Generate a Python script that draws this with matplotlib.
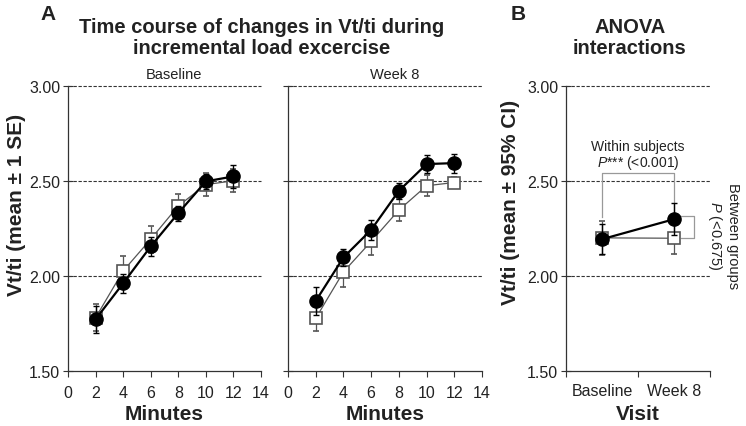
import matplotlib
matplotlib.use("Agg")
import matplotlib.pyplot as plt
from matplotlib import font_manager
from matplotlib.ticker import FormatStrFormatter

# ---------------- data ----------------
minutes = [2, 4, 6, 8, 10, 12]
base_circle = [1.772, 1.961, 2.155, 2.330, 2.497, 2.523]
base_circle_se = [0.07, 0.05, 0.05, 0.04, 0.04, 0.06]
base_square = [1.78, 2.026, 2.193, 2.368, 2.48, 2.50]
base_square_se = [0.07, 0.08, 0.07, 0.065, 0.06, 0.06]
wk8_circle = [1.868, 2.097, 2.242, 2.447, 2.588, 2.593]
wk8_circle_se = [0.074, 0.047, 0.053, 0.044, 0.047, 0.05]
wk8_square = [1.777, 2.021, 2.181, 2.346, 2.474, 2.491]
wk8_square_se = [0.066, 0.08, 0.07, 0.056, 0.056, 0.03]

visits = ["Baseline", "Week 8"]
anova_circle = [2.193, 2.298]
anova_circle_ci = [0.08, 0.083]
anova_square = [2.20, 2.198]
anova_square_ci = [0.09, 0.084]

yticks = [1.50, 2.00, 2.50, 3.00]
xticks_min = [0, 2, 4, 6, 8, 10, 12, 14]

# ---------------- fonts ----------------
avail = {f.name for f in font_manager.fontManager.ttflist}
narrow = "Liberation Sans Narrow" if "Liberation Sans Narrow" in avail else "Liberation Sans"
plt.rcParams["font.family"] = ["Liberation Sans", "DejaVu Sans"]
plt.rcParams["mathtext.fontset"] = "custom"
plt.rcParams["mathtext.it"] = "Liberation Sans:italic"
plt.rcParams["mathtext.rm"] = "Liberation Sans"

TXT = "#222222"

fig = plt.figure(figsize=(7.46, 4.27), dpi=100)
W, H = 746, 427


def px_axes(l, t, r, b):
    return fig.add_axes([l / W, 1 - b / H, (r - l) / W, (b - t) / H])


ax1 = px_axes(68, 86.7, 261, 372)
ax2 = px_axes(288, 86.7, 482, 372)
ax3 = px_axes(566, 86.7, 710, 372)


def style(ax):
    ax.set_ylim(1.5, 3.0)
    for s in ["top", "right"]:
        ax.spines[s].set_visible(False)
    for s in ["left", "bottom"]:
        ax.spines[s].set_linewidth(0.9)
        ax.spines[s].set_color("#333333")
    ax.set_yticks(yticks)
    ax.yaxis.set_major_formatter(FormatStrFormatter("%.2f"))
    ax.tick_params(axis="y", direction="inout", length=7, width=0.8, colors="#333333",
                   labelsize=11.5, labelcolor=TXT, pad=2)
    for lab in ax.get_yticklabels():
        lab.set_family(narrow)
    for v in [2.0, 2.5, 3.0]:
        ax.axhline(v, color="#333333", lw=0.8, ls=(0, (3, 1.5)), zorder=1, clip_on=False)


def line_panel(ax, circ, circ_se, sq, sq_se, title, show_ylabels=True):
    style(ax)
    ax.set_xlim(0, 14)
    ax.set_xticks(xticks_min)
    ax.tick_params(axis="x", direction="out", length=4, width=0.8, colors="#333333",
                   labelsize=11.5, labelcolor=TXT, pad=6)
    for lab in ax.get_xticklabels():
        lab.set_family(narrow)
    if not show_ylabels:
        ax.set_yticklabels([])
    ax.errorbar(minutes, sq, yerr=sq_se, color="#555555", lw=0.9, marker="s", ms=8,
                mfc="white", mec="#555555", mew=1.2, ecolor="#555555", elinewidth=0.9,
                capsize=2.5, capthick=0.9, zorder=3)
    ax.errorbar(minutes, circ, yerr=circ_se, color="black", lw=1.6, marker="o", ms=9.5,
                mfc="black", mec="black", ecolor="black", elinewidth=1.0,
                capsize=2.5, capthick=1.0, zorder=4)
    ax.set_xlabel("Minutes", fontsize=15, fontweight="bold", family=narrow, color=TXT,
                  labelpad=3)
    ax.text(0.55, 1.015, title, transform=ax.transAxes, ha="center", va="bottom",
            fontsize=10.5, color=TXT)


line_panel(ax1, base_circle, base_circle_se, base_square, base_square_se, "Baseline")
line_panel(ax2, wk8_circle, wk8_circle_se, wk8_square, wk8_square_se, "Week 8",
           show_ylabels=False)

# ---------------- panel B ----------------
style(ax3)
ax3.set_xlim(0, 2)
xpos = [0.5, 1.5]
ax3.set_xticks([0, 1, 2])
ax3.set_xticklabels([])
ax3.set_xticks(xpos, minor=True)
ax3.set_xticklabels(visits, minor=True)
ax3.tick_params(axis="x", which="major", direction="out", length=4, width=0.8,
                colors="#333333")
ax3.tick_params(axis="x", which="minor", length=0, labelsize=11.5, labelcolor=TXT, pad=9)
for lab in ax3.get_xticklabels(minor=True):
    lab.set_family(narrow)
ax3.errorbar(xpos, anova_square, yerr=anova_square_ci, color="#555555", lw=0.9,
             marker="s", ms=8, mfc="white", mec="#555555", mew=1.2, ecolor="#555555",
             elinewidth=0.9, capsize=2.5, capthick=0.9, zorder=3)
ax3.errorbar(xpos, anova_circle, yerr=anova_circle_ci, color="black", lw=1.6,
             marker="o", ms=9.5, mfc="black", mec="black", ecolor="black",
             elinewidth=1.0, capsize=2.5, capthick=1.0, zorder=4)
ax3.set_xlabel("Visit", fontsize=15, fontweight="bold", family=narrow, color=TXT,
               labelpad=4)

# within subjects bracket
ax3.plot([0.5, 0.5, 1.5, 1.5], [2.31, 2.54, 2.54, 2.33], color="#999999", lw=0.9, zorder=2)
ax3.text(1.0, 2.685, "Within subjects", ha="center", va="center", fontsize=10, color=TXT)
ax3.text(1.0, 2.60, r"$\it{P}$*** (<0.001)", ha="center", va="center", fontsize=10,
         color=TXT)
# between groups bracket
ax3.plot([1.6, 1.78, 1.78, 1.6], [2.316, 2.316, 2.197, 2.197], color="#999999", lw=0.9,
         zorder=2, clip_on=False)
ax3.text(2.18, 2.215, "Between groups\n" + r"$\it{P}$ (<0.675)", rotation=270,
         ha="center", va="center", multialignment="center", fontsize=10.5, color=TXT,
         clip_on=False, linespacing=1.15)

# ---------------- labels & titles ----------------
fig.text(17 / W, 1 - 205 / H, "Vt/ti (mean ± 1 SE)", rotation=90, ha="center",
         va="center", fontsize=15, fontweight="bold", color=TXT)
fig.text(511 / W, 1 - 202 / H, "Vt/ti (mean ± 95% CI)", rotation=90, ha="center",
         va="center", fontsize=15, fontweight="bold", color=TXT)
fig.text(48 / W, 1 - 15 / H, "A", ha="center", va="center", fontsize=15,
         fontweight="bold", color=TXT)
fig.text(518 / W, 1 - 15 / H, "B", ha="center", va="center", fontsize=15,
         fontweight="bold", color=TXT)
fig.text(262 / W, 1 - 38 / H, "Time course of changes in Vt/ti during\nincremental load excercise",
         ha="center", va="center", fontsize=14.5, fontweight="bold", color=TXT,
         linespacing=1.15)
fig.text(630 / W, 1 - 38 / H, "ANOVA\ninteractions", ha="center", va="center",
         fontsize=14.5, fontweight="bold", color=TXT, linespacing=1.15)

fig.savefig("out.png", dpi=100)
